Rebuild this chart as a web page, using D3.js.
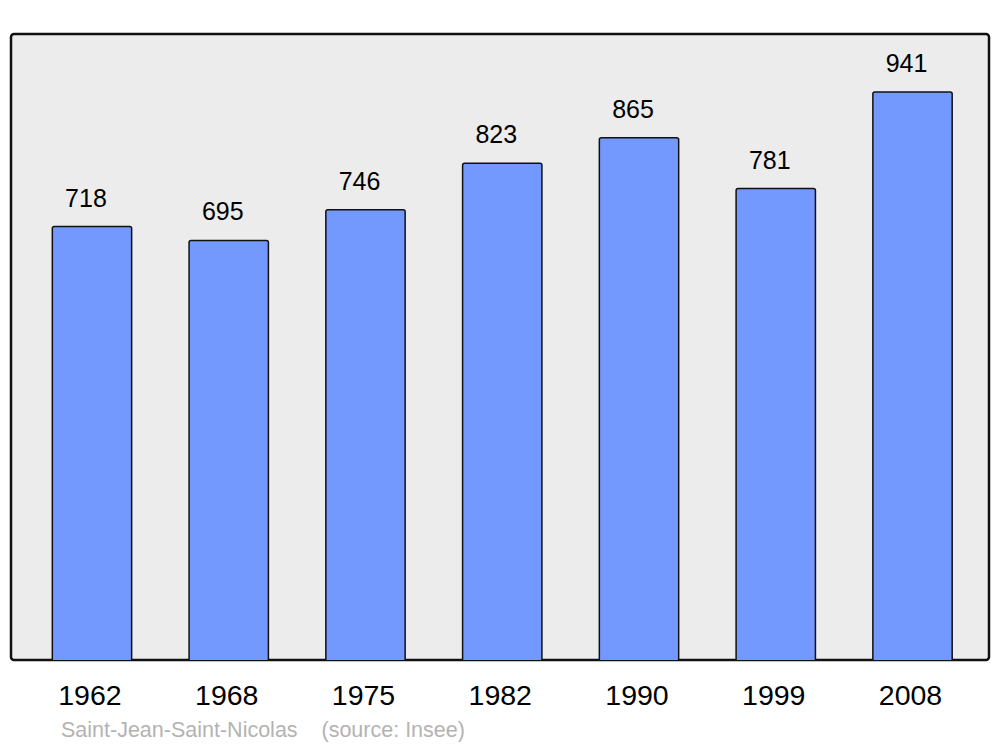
<!DOCTYPE html>
<html><head><meta charset="utf-8">
<script src="https://cdn.jsdelivr.net/npm/d3@7"></script>
<style>body{margin:0;background:#fff;}svg{display:block;font-family:"Liberation Sans",Arial,sans-serif;}</style>
</head><body>
<svg id="c" width="1000" height="747"></svg>
<script>
const years = ["1962","1968","1975","1982","1990","1999","2008"];
const population = [718,695,746,823,865,781,941];
const caption = "Saint-Jean-Saint-Nicolas\u00a0\u00a0\u00a0\u00a0(source: Insee)";

const svg = d3.select("#c");
const panel = {x0: 11, x1: 989, y0: 34, y1: 660};

svg.append("rect")
  .attr("x", panel.x0).attr("y", panel.y0)
  .attr("width", panel.x1 - panel.x0).attr("height", panel.y1 - panel.y0)
  .attr("rx", 3).attr("fill", "#ececec").attr("stroke", "#111").attr("stroke-width", 2.5);

const x = d3.scaleBand().domain(years).range([23.6, 980.9]).paddingInner(0.42).paddingOuter(0.21);
const y = d3.scaleLinear().domain([0, 1037]).range([panel.y1, panel.y0]);

const r = 2;
function barPath(x0, w, yt, yb) {
  return `M${x0},${yb}V${yt + r}Q${x0},${yt} ${x0 + r},${yt}H${x0 + w - r}Q${x0 + w},${yt} ${x0 + w},${yt + r}V${yb}`;
}

const g = svg.append("g");
years.forEach((yr, i) => {
  const v = population[i];
  g.append("path")
    .attr("d", barPath(x(yr), x.bandwidth(), y(v), y(0)))
    .attr("fill", "#7399ff").attr("stroke", "#111").attr("stroke-width", 1.5);
  g.append("text")
    .attr("x", x(yr) + x.bandwidth() / 2 - 6).attr("y", y(v) - 20)
    .attr("text-anchor", "middle").attr("font-size", 25).attr("fill", "#000")
    .text(v);
  g.append("text")
    .attr("x", x(yr) + x.bandwidth() / 2 - 2).attr("y", 705)
    .attr("text-anchor", "middle").attr("font-size", 28.5).attr("fill", "#000")
    .text(yr);
});

svg.append("text").attr("x", 61).attr("y", 737)
  .attr("font-size", 21.5).attr("fill", "#b3b3b3").text(caption);
</script>
</body></html>
